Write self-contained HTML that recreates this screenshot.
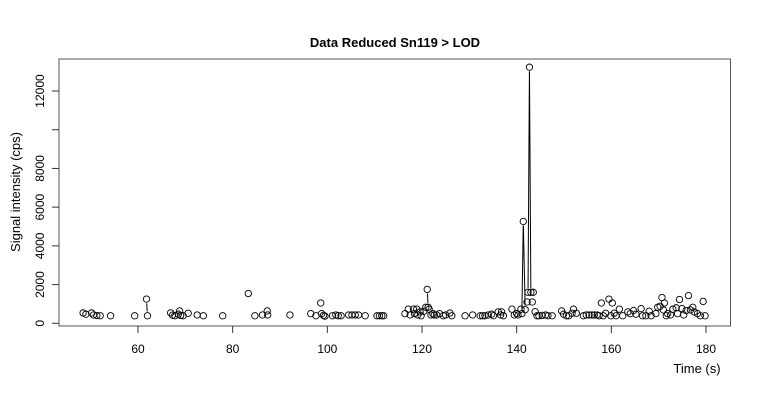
<!DOCTYPE html>
<html><head><meta charset="utf-8"><style>
body{margin:0;background:#fff;}
svg{display:block;font-family:"Liberation Sans",Arial,sans-serif;}
</style></head><body>
<svg id="chart" width="760" height="400" viewBox="0 0 760 400">
<rect x="0" y="0" width="760" height="400" fill="#fff"/>
<text x="395" y="47" text-anchor="middle" font-size="13" font-weight="bold">Data Reduced Sn119 &gt; LOD</text>
<rect x="59" y="59" width="671.5" height="267" fill="none" stroke="#555" stroke-width="1"/>
<g id="axes"></g>
<g id="series"></g>
<text x="697" y="373" text-anchor="middle" font-size="13">Time (s)</text>
<text transform="translate(20,192) rotate(-90)" text-anchor="middle" font-size="13">Signal intensity (cps)</text>
</svg>
<script>
const times = [48.4,49,50.2,50.6,51.3,52,54.2,59.3,61.8,62,66.9,67.3,67.8,68.5,68.8,69,69.5,70.6,72.5,73.8,77.9,83.3,84.7,86.3,87.3,87.4,92.1,96.5,97.6,98.6,98.8,99.2,99.5,101.1,101.8,102.3,102.9,104.5,105.2,105.9,106.6,108,110.5,111,111.5,111.9,116.4,117.1,117.5,118.2,118.4,118.9,119.1,119.6,119.8,120.4,120.8,121.1,121.3,121.5,121.9,122.3,122.6,123.1,123.7,124.5,125,125.9,126.3,129.1,130.7,132.3,132.8,133.3,134,134.7,135.1,136.1,136.6,136.8,137.2,139,139.5,140,140.3,140.9,141.1,141.4,141.8,142.2,142.4,142.7,143.0,143.3,143.5,143.9,144.3,144.7,145.4,146.1,146.6,147.5,149.5,149.9,150.5,151,151.7,152,152.6,154.1,154.7,155.3,155.9,156.4,157,157.4,157.9,158.3,158.8,159.5,159.9,160.2,160.6,161,161.7,162.4,163.5,164,164.7,165.2,166.3,166.6,167.3,168,168.4,169.4,169.8,170.3,170.7,171,171.2,171.6,171.9,172.5,173,173.7,174,174.4,174.9,175.3,175.8,176.3,176.7,177.2,177.5,178.2,178.8,179.4,179.8];
const signal = [535,470,535,430,400,390,390,390,1250,390,540,420,390,470,640,410,390,520,430,390,390,1540,390,430,640,430,430,500,390,1050,500,410,370,390,430,390,390,430,430,430,430,390,390,390,390,390,500,730,430,730,500,730,430,590,390,620,830,1750,830,730,430,500,430,430,500,390,430,530,390,390,430,390,390,390,430,470,390,590,430,590,390,730,430,500,430,730,500,5260,700,1100,1600,13230,1600,1100,1600,600,390,390,410,430,390,390,640,470,390,390,520,730,520,390,430,430,430,430,430,390,1050,390,520,1250,390,1050,520,390,730,390,590,500,660,470,760,390,390,620,390,500,830,880,1330,690,1050,390,500,430,730,800,500,1230,760,430,660,1430,690,830,590,500,390,1130,390];
// consecutive point pairs (by time) that are joined by a line; others are separated by missing values
const connectedFrom = [61.8,121.1,141.1,141.4,142.4,142.7];
const xTicks = [60,80,100,120,140,160,180];
const yTicks = [0,2000,4000,6000,8000,10000,12000];
const yTickLabels = ["0","2000","4000","6000","8000","","12000"];

const xs = t => 138 + (t - 60) * (706 - 138) / 120;
const ys = v => 323.3 - v * (323.3 - 91) / 12000;
const NS = "http://www.w3.org/2000/svg";
const axes = document.getElementById('axes');
const series = document.getElementById('series');
function mk(tag, attrs, parent){const e=document.createElementNS(NS,tag);for(const k in attrs)e.setAttribute(k,attrs[k]);parent.appendChild(e);return e;}

xTicks.forEach(t=>{
  const l=mk('line',{x1:xs(t),x2:xs(t),y1:326,y2:333,stroke:'#333'},axes);
  
  
  const tx=mk('text',{x:xs(t),y:353,'text-anchor':'middle','font-size':'12'},axes);
  tx.textContent=t;
  
  
});
yTicks.forEach((v,i)=>{
  const l=mk('line',{x1:52,x2:59,y1:ys(v),y2:ys(v),stroke:'#333'},axes);
  
  
  if(yTickLabels[i]){
    const tx=mk('text',{transform:`translate(44,${ys(v)}) rotate(-90)`,'text-anchor':'middle','font-size':'12'},axes);
    tx.textContent=yTickLabels[i];
    
    
  }
});
const r=3.2, gap=4.2;
for(let i=0;i<times.length-1;i++){
  if(!connectedFrom.includes(times[i])) continue;
  const x1=xs(times[i]),y1=ys(signal[i]),x2=xs(times[i+1]),y2=ys(signal[i+1]);
  const d=Math.hypot(x2-x1,y2-y1);
  if(d>2*gap){
    const ux=(x2-x1)/d,uy=(y2-y1)/d;
    const l=mk('line',{x1:x1+ux*gap,y1:y1+uy*gap,x2:x2-ux*gap,y2:y2-uy*gap,stroke:'#000','stroke-width':1},series);
    
    
  }
}
times.forEach((t,i)=>{
  const c=mk('circle',{cx:xs(t),cy:ys(signal[i]),r:r,fill:'none',stroke:'#000','stroke-width':0.9},series);
  
  
});
</script>
</body></html>
